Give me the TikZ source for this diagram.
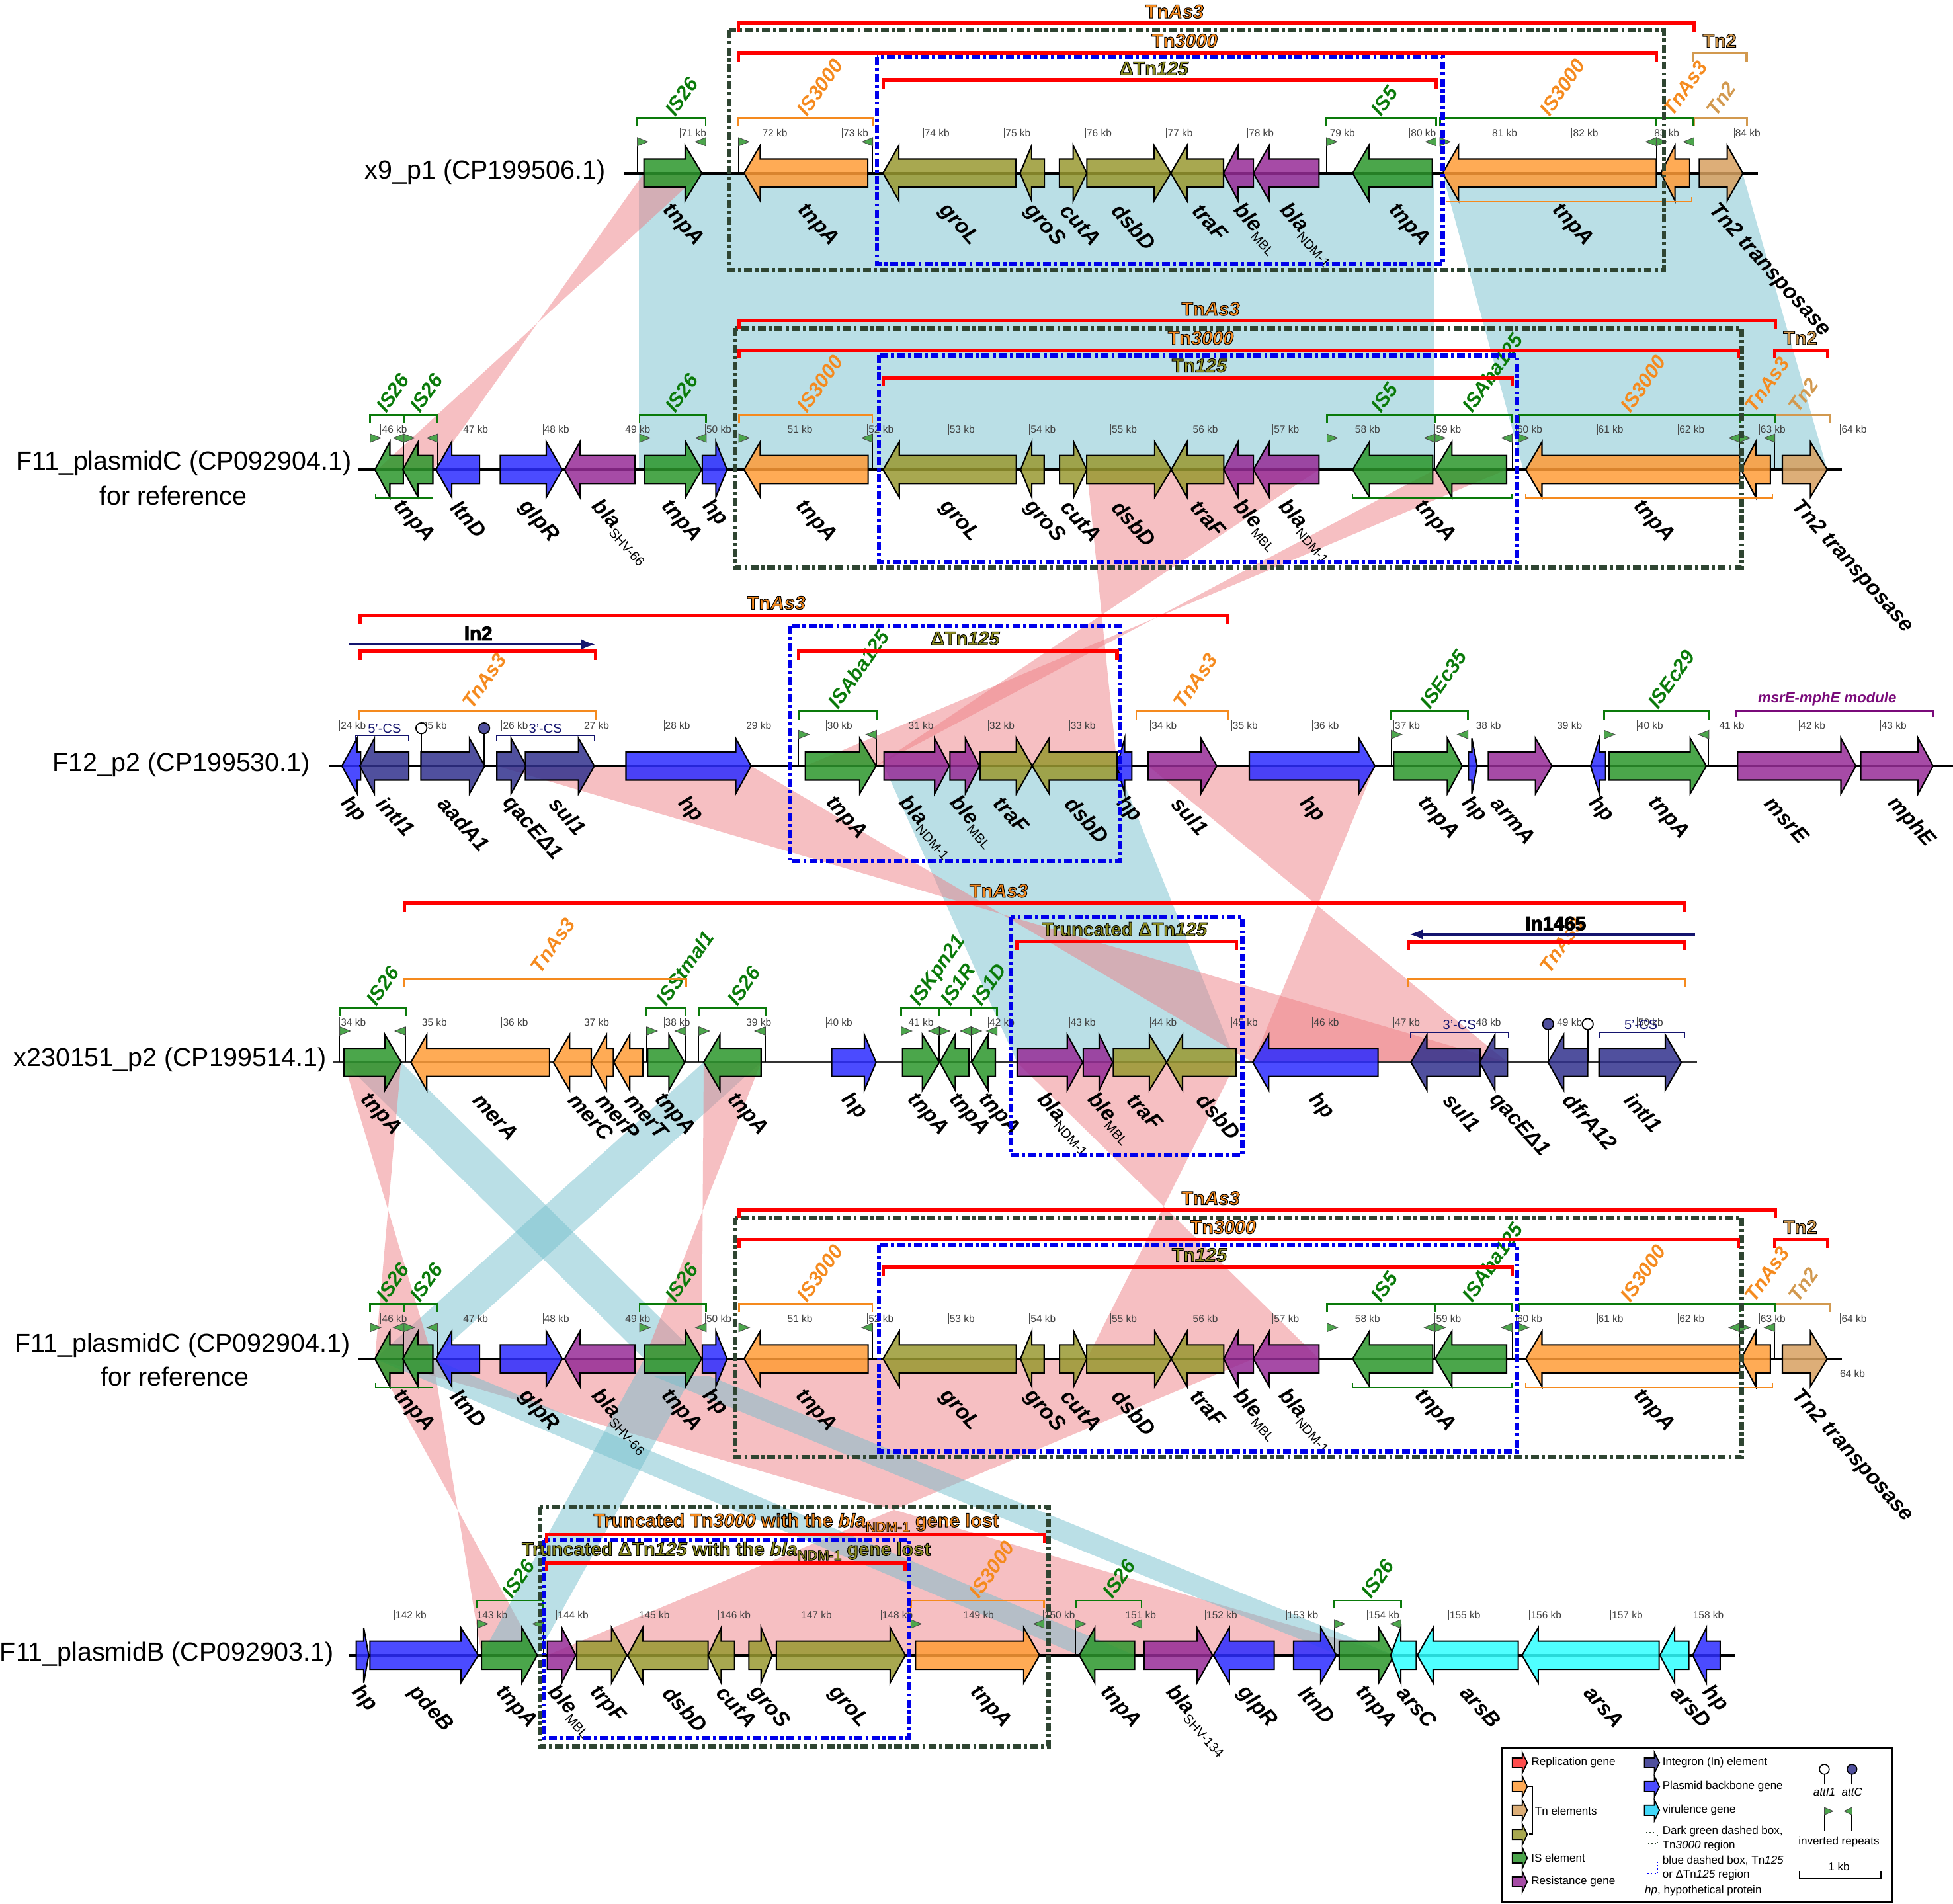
\documentclass[tikz,border=0pt]{standalone}
\usepackage{fontspec}
\usepackage{tikz}
\usepackage{xcolor}
\usetikzlibrary{arrows.meta}
\setmainfont{Liberation Sans}
\newfontfamily\outfont[FakeBold=3.5]{Liberation Sans}

% gene colours
\definecolor{repred}{HTML}{FF2F2F}
\definecolor{tnorange}{HTML}{FF9C37}
\definecolor{tntan}{HTML}{D7A060}
\definecolor{tnolive}{HTML}{999931}
\definecolor{isgreen}{HTML}{2C962C}
\definecolor{resviolet}{HTML}{962C96}
\definecolor{inblue}{HTML}{31318D}
\definecolor{bbblue}{HTML}{2C2CFF}
\definecolor{vircyan}{HTML}{30FFFF}
\definecolor{legcyan}{HTML}{22D2F8}
% line and text colours
\definecolor{brgreen}{HTML}{0A7A0A}
\definecolor{brorange}{HTML}{F58A1E}
\definecolor{brtan}{HTML}{D2994F}
\definecolor{brnavy}{HTML}{14146E}
\definecolor{boxgreen}{HTML}{2F4532}
\definecolor{modviolet}{HTML}{7A0A7A}
\definecolor{linkpink}{HTML}{EE7F85}
\definecolor{linkblue}{HTML}{75BFCD}

\tikzset{
    linkred/.style={fill=linkpink, fill opacity=0.5, draw=none},
    linkteal/.style={fill=linkblue, fill opacity=0.5, draw=none},
    geneline/.style={draw=black, line width=0.6pt, fill opacity=0.85, line join=miter},
    genelabel/.style={font=\bfseries\itshape\fontsize{9.2}{9.2}\selectfont, rotate=-48, anchor=west, inner sep=0pt},
    islabel/.style={font=\bfseries\itshape\fontsize{8.6}{8.6}\selectfont, rotate=55, anchor=base west, inner sep=0pt},
    tnlabel/.style={font=\outfont\bfseries\fontsize{8.2}{8.2}\selectfont, inner sep=0pt},
    namelabel/.style={font=\fontsize{11.2}{11.2}\selectfont, inner sep=0pt},
    kblabel/.style={font=\fontsize{4.4}{4.4}\selectfont, text=black!75, anchor=west, inner sep=0.3pt},
    kbtick/.style={draw=black!70, line width=0.25pt},
    csbracket/.style={draw=brnavy, line width=0.5pt},
    cslabel/.style={font=\fontsize{5.7}{5.7}\selectfont, text=brnavy, inner sep=0pt},
    redbar/.style={draw=red, line width=1.5pt},
    irline/.style={draw=black, line width=0.3pt},
    irflag/.style={draw=black!70, line width=0.25pt, fill=isgreen!85},
    greenbox/.style={draw=boxgreen, line width=1.9pt, dash pattern=on 3.4pt off 1.3pt on 1.3pt off 1.3pt},
    bluebox/.style={draw=blue!92!black, line width=1.9pt, dash pattern=on 3.4pt off 1.3pt on 1.3pt off 1.3pt},
    legtext/.style={font=\fontsize{4.85}{6.2}\selectfont, anchor=west, inner sep=0pt, align=left},
    baseline/.style={draw=black, line width=1pt},
}

% gene arrows: tail, start of head, tip, colour, label start, label
\newcommand{\genes}[2]{
    \foreach \xa/\xb/\xc/\col/\lx/\txt [count=\i] in {#2} {
        \draw[geneline, fill=\col] (\xa,#1-11.3) -- (\xb,#1-11.3) -- (\xb,#1-22.2) -- (\xc,#1) -- (\xb,#1+22.2) -- (\xb,#1+11.3) -- (\xa,#1+11.3) -- cycle;
        \node[genelabel] (gene#1n\i) at (\lx,#1+27) {\txt};
    }
}
% size ticks
\newcommand{\kbticks}[4]{
    \foreach \k in {#2,...,#3} {
        \pgfmathsetmacro{\kx}{#4+(\k-#2)*65.1}
        \draw[kbtick] (\kx,#1-36.6) -- (\kx,#1-28);
        \node[kblabel] (kb#1n\k) at (\kx,#1-32.3) {\k\ kb};
    }
}
% inverted repeat flags
\newcommand{\irflags}[3]{
    \foreach \fx in {#2} {
        \draw[irline] (\fx,#1) -- (\fx,#1-28.6);
        \draw[irflag] (\fx,#1-28.6) -- (\fx+8.5,#1-25.2) -- (\fx,#1-21.8) -- cycle;
    }
    \foreach \fx in {#3} {
        \draw[irline] (\fx,#1) -- (\fx,#1-28.6);
        \draw[irflag] (\fx,#1-28.6) -- (\fx-8.5,#1-25.2) -- (\fx,#1-21.8) -- cycle;
    }
}
% brackets over genes
\newcommand{\elements}[2]{
    \foreach \xa/\xb/\col/\txt/\lpos [count=\i] in {#2} {
        \draw[draw=\col, line width=0.8pt] (\xa,#1-37.5) -- (\xa,#1-44) -- (\xb,#1-44) -- (\xb,#1-37.5);
        \node[islabel, text=\col] (elem#1n\i) at (\lpos+6,#1-44.5) {\txt};
    }
}
\newcommand{\lowerbracket}[4]{
    \draw[draw=#4, line width=0.5pt] (#2,#1+19.5) -- (#2,#1+23) -- (#3,#1+23) -- (#3,#1+19.5);
}
\newcommand{\redbracket}[3]{
    \draw[redbar] (#2,#1+6.8) -- (#2,#1) -- (#3,#1) -- (#3,#1+6.8);
}
\newcommand{\attpin}[4]{
    \draw[irline, line width=0.5pt] (#1,#2) -- (#1,#3+4.5);
    \draw[draw=black, line width=0.5pt, fill=#4] (#1,#3) circle (4.4);
}
% filled text with a black edge
\newcommand{\outl}[2]{\special{pdf:bcolor [#1] [0 0 0]}#2\special{pdf:ecolor}}
\newcommand{\fillorange}{0.96 0.54 0.12}
\newcommand{\fillolive}{0.54 0.54 0.12}
\newcommand{\filltan}{0.82 0.60 0.31}
\newcommand{\gsub}[1]{\raisebox{-0.45ex}{\normalfont\fontsize{5.7}{6}\selectfont #1}}
\newcommand{\tsub}[1]{\raisebox{-0.45ex}{\fontsize{6}{6}\selectfont #1}}

% the reference plasmid, drawn twice
\newcommand{\plasmidC}[2]{
    \draw[baseline] (287,#1) -- (1479,#1);
    \kbticks{#1}{46}{64}{305.8}
    \irflags{#1}{297.3,324.3,513.5,593.2,1065.4,1152,1219,1396.6}{324.3,351.3,567,700.4,1152,1214,1396.6,1425}
    \genes{#1}{
        323.8/313/301/isgreen/318.6/{},
        347.5/335.7/323.4/isgreen/318.6/tnpA,
        385/362.7/350/bbblue/365/ltnD,
        401.6/438.6/451.4/bbblue/419.6/glpR,
        509.7/465.6/453.3/resviolet/477.5/{bla\gsub{SHV-66}},
        517.3/550.5/563.3/isgreen/533.4/tnpA,
        563.8/574.7/583.7/bbblue/566.6/hp,
        697/610.3/597.4/tnorange/641.5/tnpA,
        816/722/709/tnolive/757.3/groL,
        838.3/828.4/819.4/tnolive/825/groS,
        850.7/862/872.5/tnolive/855/cutA,
        872.5/927/940.3/tnolive/896/dsbD,
        982.5/953/940.3/tnolive/958.8/traF,
        1006.3/994/982.5/resviolet/993/{ble\gsub{MBL}},
        1059/1019/1006.3/resviolet/1028.8/{bla\gsub{NDM-1}},
        1150.3/1099.5/1086/isgreen/1138.5/{},
        1209.6/1165.7/1152.3/isgreen/1138.5/tnpA,
        1396.6/1238/1225/tnorange/1314/tnpA,
        1421.4/1409.6/1397.8/tnorange/1314/{},
        1431/1453.5/1467/tntan/1441.3/{Tn2 transposase}
    }
    \elements{#1}{
        297/324.3/brgreen/IS26/304,
        324.3/351.3/brgreen/IS26/331,
        513.5/567/brgreen/IS26/536,
        593.2/700.4/brorange/IS3000/642,
        1065.4/1152.3/brgreen/IS5/1103,
        1152.3/1214/brgreen/ISAba125/1176,
        1219.8/1396.6/brorange/IS3000/1303,
        1396.6/1425/brorange/TnAs3/1403,
        1425/1469/brtan/Tn2/1438
    }
    \draw[draw=brgreen, line width=0.8pt] (1219.8,#1-37.5) -- (1219.8,#1-44) -- (1425,#1-44) -- (1425,#1-37.5);
    \draw[draw=brgreen, line width=0.8pt] (1396.6,#1-37.5) -- (1396.6,#1-44);
    \lowerbracket{#1}{301.5}{347.5}{brgreen}
    \lowerbracket{#1}{1086}{1213.7}{brgreen}
    \lowerbracket{#1}{1225}{1423}{brorange}
    % regions
    \draw[greenbox] (590.3,#1-113.5) rectangle (1398.2,#1+78.7);
    \draw[bluebox] (705.6,#1-91.6) rectangle (1217.8,#1+74.3);
    \redbracket{#1-119.7}{593.2}{1425.4}
    \redbracket{#1-95.8}{593.2}{1395.8}
    \redbracket{#1-95.8}{1425}{1467.3}
    \redbracket{#1-73.6}{709}{1214}
    \node[tnlabel] (tnas#1) at (972,#1-129) {\outl{\fillorange}{Tn\textit{As3}}};
    \node[tnlabel] (tnthree#1) at (#2,#1-105.7) {\outl{\fillorange}{Tn\textit{3000}}};
    \node[tnlabel] (tnone#1) at (963,#1-83.5) {\outl{\fillolive}{Tn\textit{125}}};
    \node[tnlabel] (tntwo#1) at (1445.3,#1-105.7) {\outl{\filltan}{Tn2}};
}

\begin{document}
\begin{tikzpicture}[x=0.018833cm, y=-0.018833cm]
    \useasboundingbox (0,0) rectangle (1568,1528.2);

    % Links between the plasmids
    \fill[linkteal] (513,139) -- (1151,139) -- (1151,377) -- (513,377) -- cycle;
    \fill[linkteal] (1158,139) -- (1399,139) -- (1467,377) -- (1223,377) -- cycle;
    \fill[linkred] (517,139) -- (563,139) -- (303,377) -- (348,377) -- cycle;
    \fill[linkred] (872.6,377) -- (1059,377) -- (703,615) -- (896.9,615) -- cycle;
    \fill[linkred] (1152.3,377) -- (1209.5,377) -- (646.6,615) -- (703.4,615) -- cycle;
    \fill[linkteal] (709.7,615) -- (896.9,615) -- (992.5,853) -- (816.6,853) -- cycle;
    \fill[linkred] (399,615) -- (603,615) -- (1005.8,853) -- (1210.3,853) -- cycle;
    \fill[linkred] (922,615) -- (1104,615) -- (1005.8,853) -- (1210.3,853) -- cycle;
    \fill[linkred] (816.6,853) -- (992.5,853) -- (872.6,1091) -- (1059,1091) -- cycle;
    \fill[linkteal] (276,853) -- (322,853) -- (563.3,1091) -- (517.3,1091) -- cycle;
    \fill[linkteal] (564.9,853) -- (611,853) -- (347.5,1091) -- (301,1091) -- cycle;
    \fill[linkred] (276,853) -- (322,853) -- (301,1091) -- (347.5,1091) -- cycle;
    \fill[linkred] (565,853) -- (611,853) -- (517.3,1091) -- (563.3,1091) -- cycle;
    \fill[linkred] (301,1091) -- (347.5,1091) -- (386.6,1329) -- (431.3,1329) -- cycle;
    \fill[linkred] (301,1091) -- (1006.3,1091) -- (439.5,1329) -- (1119.3,1329) -- cycle;
    \fill[linkteal] (301,1091) -- (347.5,1091) -- (911,1329) -- (866.3,1329) -- cycle;
    \fill[linkteal] (525,1105) -- (570,1105) -- (1119.3,1329) -- (1075.2,1329) -- cycle;
    \fill[linkteal] (517.3,1091) -- (563.3,1091) -- (431.3,1329) -- (386.6,1329) -- cycle;

    % x9_p1
    \node[namelabel] (namea) at (389.5,138) {x9\_p1 (CP199506.1)};
    \draw[baseline] (501,139) -- (1411.5,139);
    \kbticks{139}{71}{84}{546}
    \irflags{139}{511.7,593,1065,1156,1329.8}{566.6,700.7,1153,1329.8,1360}
    \genes{139}{
        517/550/563.5/isgreen/534.8/tnpA,
        696.7/610.3/597.4/tnorange/643/tnpA,
        815.7/721.7/708.9/tnolive/756.6/groL,
        838.5/828.3/819/tnolive/825/groS,
        850.6/861.6/872.6/tnolive/854.7/cutA,
        872.6/926.6/940/tnolive/896/dsbD,
        982.3/953/940/tnolive/960.4/traF,
        1006.3/994/982.3/resviolet/992.9/{ble\gsub{MBL}},
        1059/1019/1006.3/resviolet/1030/{bla\gsub{NDM-1}},
        1150/1099/1086/isgreen/1117.6/tnpA,
        1329.8/1171/1158.3/tnorange/1249/tnpA,
        1356.6/1344.8/1333.4/tnorange/1249/{},
        1364.3/1386.7/1399.3/tntan/1374.5/{Tn2 transposase}
    }
    \elements{139}{
        511.7/566.6/brgreen/IS26/536,
        593/700.7/brorange/IS3000/642,
        1065/1153/brgreen/IS5/1103,
        1156/1329.8/brorange/IS3000/1238,
        1329.8/1359.5/brorange/TnAs3/1337,
        1360/1402.5/brtan/Tn2/1372
    }
    \draw[draw=brgreen, line width=0.8pt] (1156,101.5) -- (1156,95) -- (1359.5,95) -- (1359.5,101.5);
    \draw[draw=brgreen, line width=0.8pt] (1329.8,101.5) -- (1329.8,95);
    \lowerbracket{139}{1161}{1358}{brorange}
    \draw[greenbox] (585.6,24.4) rectangle (1336,216.8);
    \draw[bluebox] (704,45.7) rectangle (1158.3,211.9);
    \redbracket{18.6}{593}{1360}
    \redbracket{42.5}{593}{1329.8}
    \redbracket{64.2}{709}{1153}
    \draw[draw=brtan, line width=1.1pt] (1359.5,49.6) -- (1359.5,42.5) -- (1402.5,42.5) -- (1402.5,49.6);
    \node[tnlabel] (tnasa) at (943,9.2) {\outl{\fillorange}{Tn\textit{As3}}};
    \node[tnlabel] (tnthreea) at (951,32.7) {\outl{\fillorange}{Tn\textit{3000}}};
    \node[tnlabel] (tnonea) at (926.6,54.9) {\outl{\fillolive}{ΔTn\textit{125}}};
    \node[tnlabel] (tntwoa) at (1380.6,32.7) {\outl{\filltan}{Tn2}};

    % F11_plasmidC
    \node[namelabel] (nameb) at (147.5,372) {F11\_plasmidC (CP092904.1)};
    \node[namelabel] (namebb) at (139,398) {for reference};
    \plasmidC{377}{964}

    % F12_p2
    \node[namelabel] (namec) at (145.5,614) {F12\_p2 (CP199530.1)};
    \draw[baseline, line width=0.8pt] (264,615) -- (1568,615);
    \kbticks{615}{24}{43}{272.7}
    \irflags{615}{641.1,1117,1288}{703.8,1178.6,1372}
    \attpin{338.3}{615}{584.7}{white}
    \attpin{388.7}{615}{584.7}{inblue!85}
    \genes{615}{
        289.6/286.7/274.4/bbblue/276/hp,
        328.2/300.6/288.8/inblue/305.7/intI1,
        337.9/376.9/389.2/inblue/355/aadA1,
        398.9/410.3/422.6/inblue/406/qacEΔ1,
        421.8/464.5/477.2/inblue/444/sul1,
        502.6/590.7/603/bbblue/547/hp,
        646.6/690.2/703.4/isgreen/665.7/tnpA,
        709.7/750.4/762.2/resviolet/724/{bla\gsub{NDM-1}},
        762.7/775/786.4/resviolet/765/{ble\gsub{MBL}},
        786.8/816/828.7/tnolive/801/traF,
        896.9/842.3/828.7/tnolive/858.4/dsbD,
        908.7/903/896.8/bbblue/899/hp,
        921.9/964.2/977/resviolet/944/sul1,
        1003/1091/1104/bbblue/1046/hp,
        1119/1162/1174/isgreen/1141/tnpA,
        1179/1181.7/1186/bbblue/1176/hp,
        1194.9/1232.8/1246/resviolet/1200/armA,
        1289/1284/1277/bbblue/1278/hp,
        1292/1357/1370/isgreen/1326/tnpA,
        1395/1478/1490/resviolet/1420/msrE,
        1494/1540/1552/resviolet/1518/mphE
    }
    \elements{615}{
        288.8/478/brorange/TnAs3/373,
        641/703.8/brgreen/ISAba125/667,
        912.2/985.8/brorange/TnAs3/944,
        1117/1178.6/brgreen/ISEc35/1142,
        1288/1372/brgreen/ISEc29/1325
    }
    \draw[csbracket] (285.4,594.7) -- (285.4,590.6) -- (328.2,590.6) -- (328.2,594.7);
    \draw[csbracket] (398.9,594.7) -- (398.9,590.6) -- (477.2,590.6) -- (477.2,594.7);
    \node[cslabel] (csfivec) at (308.7,585) {5'-CS};
    \node[cslabel] (csthreec) at (437.9,585) {3'-CS};
    \draw[draw=modviolet, line width=0.8pt] (1394,575.5) -- (1394,571) -- (1552,571) -- (1552,575.5);
    \node[font=\bfseries\itshape\fontsize{6.3}{6.3}\selectfont, text=modviolet, inner sep=0pt] (modc) at (1467,561) {msrE-mphE module};
    \draw[bluebox] (634,502.7) rectangle (899,691.3);
    \redbracket{493.9}{288.8}{985.8}
    \redbracket{523}{288.8}{478}
    \redbracket{523}{641}{896.8}
    \coordinate (intwoa) at (280.3,517.4);
    \coordinate (intwob) at (478,517.4);
    \draw[draw=brnavy, line width=1pt, -{Latex[length=6pt,width=4.6pt]}] (intwoa) -- (intwob);
    \node[font=\outfont\bfseries\fontsize{8.4}{8.4}\selectfont, inner sep=0pt] (intwo) at (384,508.5) {In2};
    \node[tnlabel] (tnasc) at (623.3,484) {\outl{\fillorange}{Tn\textit{As3}}};
    \node[tnlabel] (tnonec) at (775,512.5) {\outl{\fillolive}{ΔTn\textit{125}}};

    % x230151_p2
    \node[namelabel] (named) at (136.5,851) {x230151\_p2 (CP199514.1)};
    \draw[baseline, line width=0.7pt, draw=black!80] (267.6,853) -- (1362.7,853);
    \kbticks{853}{34}{50}{272.7}
    \irflags{853}{272.7,519.2,561.1,723.6,754,779.6}{325.6,550.5,614.5,754,779.6,800.5}
    \attpin{1242.9}{853}{822.3}{inblue!85}
    \attpin{1274.7}{853}{822.3}{white}
    \genes{853}{
        276/309.1/322.2/isgreen/292/tnpA,
        441.2/342.6/329.9/tnorange/383/merA,
        474.7/457.3/444.2/tnorange/459.5/merC,
        492.5/487/474.7/tnorange/481.5/merP,
        516.2/505.6/492.9/tnorange/504.8/merT,
        520/537/549.6/isgreen/528/tnpA,
        611/578/564.9/isgreen/586.5/tnpA,
        667.8/694/703.4/bbblue/678.4/hp,
        724.6/740.6/754.2/isgreen/731.3/tnpA,
        777.9/766.9/754.6/isgreen/764.4/tnpA,
        799.1/793.2/780/isgreen/788.5/tnpA,
        816.6/856.9/869.2/resviolet/835/{bla\gsub{NDM-1}},
        869.7/882.5/893.4/resviolet/875.3/{ble\gsub{MBL}},
        893.9/922.8/936.6/tnolive/908/traF,
        992.5/949.4/936.6/tnolive/963.8/dsbD,
        1106.4/1018.6/1005.8/bbblue/1053.5/hp,
        1188.3/1145.6/1132.8/inblue/1162/sul1,
        1210.3/1200.2/1188/inblue/1198.5/qacEΔ1,
        1274.7/1255.4/1242.9/inblue/1258.4/dfrA12,
        1283.8/1337/1349.9/inblue/1307.5/intI1
    }
    \elements{853}{
        272.7/325.6/brgreen/IS26/296,
        519.2/550.5/brgreen/ISStmal1/529,
        561.1/614.5/brgreen/IS26/586,
        723.6/754/brgreen/ISKpn21/732,
        754/779.6/brgreen/IS1R/757,
        779.6/800.5/brgreen/IS1D/782
    }
    \draw[draw=brorange, line width=0.8pt] (324.8,792.2) -- (324.8,786) -- (551,786) -- (551,792.2);
    \node[islabel, text=brorange] (tnasd) at (434,782.5) {TnAs3};
    \draw[draw=brorange, line width=0.8pt] (1130.7,792.2) -- (1130.7,786) -- (1352.6,786) -- (1352.6,792.2);
    \node[islabel, text=brorange] (tnase) at (1244,782.5) {TnAs3};
    \draw[csbracket] (1132.4,833) -- (1132.4,828.8) -- (1211,828.8) -- (1211,833);
    \draw[csbracket] (1283.8,833) -- (1283.8,828.8) -- (1352.3,828.8) -- (1352.3,833);
    \node[cslabel] (csthreed) at (1171.7,823) {3'-CS};
    \node[cslabel] (csfived) at (1317.4,823) {5'-CS};
    \draw[bluebox] (811.9,736.4) rectangle (997.3,927.1);
    \redbracket{725.3}{324.8}{1352.6}
    \redbracket{755.9}{816.6}{992.5}
    \redbracket{756.2}{1130.7}{1352.6}
    \coordinate (inoned) at (1360.7,750.2);
    \coordinate (inonee) at (1131.4,750.2);
    \draw[draw=brnavy, line width=1pt, -{Latex[length=6pt,width=4.6pt]}] (inoned) -- (inonee);
    \node[font=\outfont\bfseries\fontsize{8.4}{8.4}\selectfont, inner sep=0pt] (inone) at (1249,741.4) {In1465};
    \node[tnlabel] (tnasf) at (801.9,715.2) {\outl{\fillorange}{Tn\textit{As3}}};
    \node[tnlabel] (tnoned) at (902.9,745.9) {\outl{\fillolive}{Truncated ΔTn\textit{125}}};

    % F11_plasmidC again
    \node[namelabel] (namee) at (146.5,1080) {F11\_plasmidC (CP092904.1)};
    \node[namelabel] (nameee) at (140.5,1105) {for reference};
    \plasmidC{1091}{982}
    \node[kblabel] (kbextra) at (1476.3,1102.6) {64 kb};
    \draw[kbtick] (1476.3,1098.3) -- (1476.3,1106.9);

    % F11_plasmidB
    \node[namelabel] (namef) at (134,1328) {F11\_plasmidB (CP092903.1)};
    \draw[baseline, line width=1.3pt] (280,1329) -- (1393,1329);
    \kbticks{1329}{142}{158}{316.7}
    \irflags{1329}{383.3,731.3,863.5,1071.3}{436,838.3,916.5,1124.7}
    \genes{1329}{
        286/292/296/bbblue/285/hp,
        297/370/384/bbblue/331/pdeB,
        386.6/419/431.3/isgreen/400.8/tnpA,
        439.5/451/462.3/resviolet/442.5/{ble\gsub{MBL}},
        463/491/503.3/tnolive/476/trpF,
        568.5/516/504/tnolive/535.7/dsbD,
        589.7/579/568.5/tnolive/578.5/cutA,
        601.3/611/620/tnolive/604/groS,
        623.3/714.6/726.9/tnolive/668/groL,
        735/821.9/834.6/tnorange/781.7/tnpA,
        911/879/866.5/isgreen/886/tnpA,
        918.7/961/973.5/resviolet/938.6/{bla\gsub{SHV-134}},
        1023/987/974.2/bbblue/996/glpR,
        1038.6/1060.3/1073/bbblue/1046/ltnD,
        1075.2/1106.9/1119.3/isgreen/1090.9/tnpA,
        1137/1124.7/1116.5/vircyan/1124.7/arsC,
        1218.9/1150.6/1138/vircyan/1175.9/arsB,
        1332/1235/1222/vircyan/1274.8/arsA,
        1355.9/1344.5/1332.7/vircyan/1344.8/arsD,
        1381/1370/1359/bbblue/1369.7/hp
    }
    \elements{1329}{
        383.3/436/brgreen/IS26/405,
        731.3/838.3/brorange/IS3000/780,
        863.5/916.5/brgreen/IS26/887,
        1071.3/1124.7/brgreen/IS26/1095
    }
    \draw[greenbox] (433.2,1210) rectangle (842,1402);
    \draw[bluebox] (436.6,1236.2) rectangle (729.5,1395.5);
    \redbracket{1232}{438.8}{838.7}
    \redbracket{1254.7}{438.8}{726.5}
    \node[tnlabel] (tntrunca) at (639.3,1222.4) {\outl{\fillorange}{Truncated Tn\textit{3000} with the \textit{bla}\tsub{NDM-1} gene lost}};
    \node[tnlabel] (tntruncb) at (583,1245.3) {\outl{\fillolive}{Truncated ΔTn\textit{125} with the \textit{bla}\tsub{NDM-1} gene lost}};

    % Legend
    \draw[draw=black, line width=0.9pt, fill=white] (1205.9,1403.4) rectangle (1519.3,1526.8);
    \foreach \lx/\ly/\lc in {1214.2/1415.3/repred, 1214.2/1434.4/tnorange, 1214.2/1453.5/tntan, 1214.2/1472.8/tnolive, 1214.2/1491.8/isgreen, 1214.2/1510.9/resviolet, 1320.3/1415.3/inblue, 1320.3/1434.4/bbblue, 1320.3/1453.5/legcyan} {
        \draw[geneline, line width=0.5pt, fill=\lc] (\lx,\ly-4) -- (\lx+8,\ly-4) -- (\lx+8,\ly-8.3) -- (\lx+12,\ly) -- (\lx+8,\ly+8.3) -- (\lx+8,\ly+4) -- (\lx,\ly+4) -- cycle;
    }
    \draw[draw=black, line width=0.4pt] (1226.2,1434.2) -- (1230.3,1434.2) -- (1230.3,1472.4) -- (1227.6,1472.4);
    \node[legtext] (legrep) at (1229.2,1415.3) {Replication gene};
    \node[legtext] (legtn) at (1232,1453.9) {Tn elements};
    \node[legtext] (legis) at (1229,1491.8) {IS element};
    \node[legtext] (legres) at (1229,1510.9) {Resistance gene};
    \node[legtext] (legint) at (1334.4,1415.3) {Integron (In) element};
    \node[legtext] (legbb) at (1334.4,1434.4) {Plasmid backbone gene};
    \node[legtext] (legvir) at (1334.4,1453.5) {virulence gene};
    \draw[draw=boxgreen, line width=0.5pt, densely dotted] (1320.8,1471.4) rectangle (1330.9,1480.3);
    \node[legtext] (leggreen) at (1334.4,1476.2) {Dark green dashed box,\\Tn\textit{3000} region};
    \draw[draw=blue, line width=0.5pt, densely dotted] (1320.8,1495) rectangle (1330.9,1504.2);
    \node[legtext] (legblue) at (1334.4,1499.8) {blue dashed box, Tn\textit{125}\\or ΔTn\textit{125} region};
    \node[legtext] (leghp) at (1320.3,1518.3) {\textit{hp}, hypothetical protein};
    \draw[irline, line width=0.45pt] (1464.7,1431.8) -- (1464.7,1424.6);
    \draw[draw=black, line width=0.45pt, fill=white] (1464.7,1420.6) circle (3.9);
    \draw[irline, line width=0.45pt] (1486.9,1431.8) -- (1486.9,1424.6);
    \draw[draw=black, line width=0.45pt, fill=inblue!85] (1486.9,1420.6) circle (3.9);
    \node[legtext, anchor=center] (legatti) at (1464.7,1438.8) {\textit{attI1}};
    \node[legtext, anchor=center] (legattc) at (1486.9,1438.8) {\textit{attC}};
    \draw[irline, line width=0.45pt] (1464.7,1470.2) -- (1464.7,1451.2);
    \draw[irflag] (1464.7,1451.2) -- (1471.7,1454.2) -- (1464.7,1457.2) -- cycle;
    \draw[irline, line width=0.45pt] (1486.9,1470.2) -- (1486.9,1451.2);
    \draw[irflag] (1486.9,1451.2) -- (1480.6,1454.2) -- (1486.9,1457.2) -- cycle;
    \node[legtext, anchor=center] (legir) at (1476.4,1479) {inverted repeats};
    \node[legtext, anchor=center] (legkb) at (1476.4,1498.5) {1 kb};
    \draw[draw=black, line width=0.5pt] (1444.8,1502.4) -- (1444.8,1507.9) -- (1510.3,1507.9) -- (1510.3,1502.4);
\end{tikzpicture}
\end{document}
